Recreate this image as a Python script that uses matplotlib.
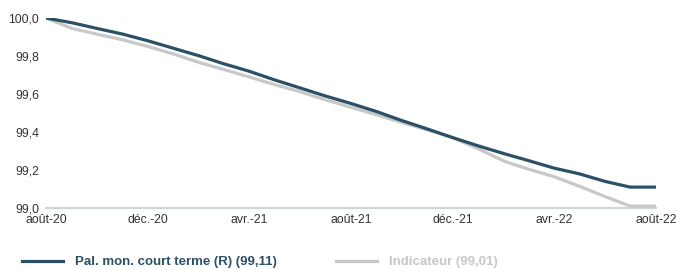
import matplotlib
matplotlib.use("Agg")
import matplotlib.pyplot as plt
from matplotlib.lines import Line2D
import pandas as pd

dates = pd.date_range("2020-08-01", "2022-08-01", freq="MS")
pal_mon = [100.0, 99.975, 99.945, 99.915, 99.88, 99.84, 99.80, 99.76, 99.72, 99.675,
           99.632, 99.59, 99.55, 99.507, 99.46, 99.415, 99.37, 99.326, 99.285,
           99.25, 99.21, 99.18, 99.14, 99.11, 99.11]
indicateur = [100.0, 99.945, 99.915, 99.885, 99.85, 99.81, 99.765, 99.73, 99.69, 99.65,
              99.612, 99.57, 99.53, 99.49, 99.45, 99.41, 99.37, 99.31, 99.245,
              99.205, 99.165, 99.115, 99.06, 99.01, 99.01]
tick_dates = pd.to_datetime(["2020-08-01", "2020-12-01", "2021-04-01", "2021-08-01",
                             "2021-12-01", "2022-04-01", "2022-08-01"])
tick_labels = ["août-20", "déc.-20", "avr.-21", "août-21", "déc.-21", "avr.-22", "août-22"]
y_ticks = [99.0, 99.2, 99.4, 99.6, 99.8, 100.0]
y_labels = ["99,0", "99,2", "99,4", "99,6", "99,8", "100,0"]
legend_labels = ["Pal. mon. court terme (R) (99,11)", "Indicateur (99,01)"]

dark = "#2b5066"
gray = "#c8c8c8"

plt.rcParams["font.family"] = ["Liberation Sans", "DejaVu Sans"]

fig = plt.figure(figsize=(6.76, 2.70), dpi=100)
ax = fig.add_axes([46 / 676, 1 - 208 / 270, (656 - 46) / 676, 190 / 270])

ax.plot(dates, indicateur, color=gray, lw=2.3, solid_capstyle="butt", zorder=2)
ax.plot(dates, pal_mon, color=dark, lw=2.3, solid_capstyle="butt", zorder=3)

ax.set_xlim(dates[0], dates[-1])
ax.set_ylim(99.0, 100.0)
ax.set_xticks(tick_dates)
ax.set_xticklabels(tick_labels)
ax.set_yticks(y_ticks)
ax.set_yticklabels(y_labels)
ax.tick_params(axis="both", length=0, labelsize=8.8, colors="#333333")
ax.tick_params(axis="x", pad=4)
ax.tick_params(axis="y", pad=5)
for s in ["top", "right", "left"]:
    ax.spines[s].set_visible(False)
ax.spines["bottom"].set_color("#c9d6da")
ax.spines["bottom"].set_linewidth(1.5)
ax.spines["bottom"].set_zorder(1)

handles = [Line2D([], [], color=dark, lw=2.3), Line2D([], [], color=gray, lw=2.3)]
leg = fig.legend(handles, legend_labels, loc="center left", bbox_to_anchor=(22 / 676, 1 - 262 / 270),
                 ncol=2, frameon=False, handlelength=3.1, handletextpad=0.9, columnspacing=4.5,
                 borderpad=0, borderaxespad=0,
                 prop={"family": "Liberation Sans", "weight": "bold", "size": 9.5})
for t, c in zip(leg.get_texts(), [dark, gray]):
    t.set_color(c)

fig.savefig("out.png", dpi=100)
